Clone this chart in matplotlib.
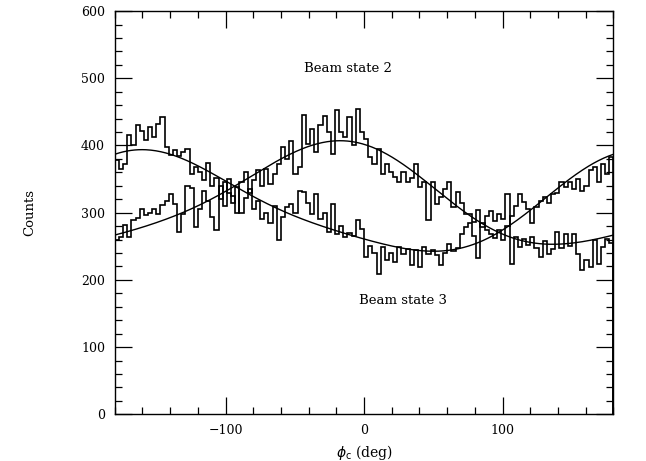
import numpy as np
import matplotlib
matplotlib.use("Agg")
import matplotlib.pyplot as plt
from matplotlib.ticker import MultipleLocator

# 3 degree bins from -180 to 180
bin_edges = np.arange(-180, 181, 3)

# Beam state 3 histogram (peaks near -160 deg)
counts_state3 = [378, 365, 372, 415, 400, 430, 422, 408, 428, 412,
                 432, 443, 398, 386, 394, 385, 390, 395, 358, 368,
                 360, 348, 374, 340, 352, 320, 345, 330, 315, 338,
                 300, 322, 335, 305, 318, 290, 300, 285, 310, 259,
                 294, 308, 313, 300, 333, 331, 315, 298, 328, 291,
                 300, 271, 313, 269, 280, 264, 270, 266, 289, 276,
                 234, 251, 240, 209, 249, 229, 240, 227, 249, 239,
                 246, 222, 244, 219, 249, 238, 245, 237, 222, 240,
                 254, 243, 247, 269, 279, 284, 265, 232, 284, 274,
                 269, 262, 274, 259, 280, 295, 310, 328, 316, 305,
                 284, 308, 318, 323, 315, 328, 330, 345, 338, 345,
                 335, 350, 333, 340, 363, 368, 345, 373, 358, 383]

# Beam state 2 histogram (peaks near -15 deg)
counts_state2 = [259, 264, 281, 264, 289, 292, 306, 296, 300, 306,
                 298, 311, 318, 328, 313, 271, 298, 340, 336, 279,
                 306, 333, 318, 294, 274, 340, 310, 350, 325, 300,
                 345, 360, 330, 348, 363, 340, 365, 343, 358, 372,
                 397, 380, 407, 358, 368, 445, 402, 425, 390, 430,
                 444, 420, 388, 453, 420, 412, 442, 400, 455, 420,
                 410, 383, 373, 395, 358, 372, 360, 353, 345, 360,
                 345, 352, 373, 338, 345, 289, 345, 313, 323, 335,
                 345, 308, 331, 315, 298, 298, 286, 304, 279, 295,
                 303, 288, 298, 290, 328, 224, 264, 249, 261, 252,
                 264, 247, 234, 258, 239, 246, 271, 248, 269, 250,
                 269, 239, 214, 230, 219, 259, 224, 249, 261, 255]


def fourier_fit(edges, counts, phi):
    # least-squares fit with first and second harmonics
    centers = np.radians(0.5 * (edges[:-1] + edges[1:]))
    def basis(t):
        return np.column_stack([np.ones_like(t), np.cos(t), np.sin(t),
                                np.cos(2 * t), np.sin(2 * t)])
    coef, *_ = np.linalg.lstsq(basis(centers), np.asarray(counts, float), rcond=None)
    return basis(np.radians(phi)) @ coef


phi = np.linspace(-180, 180, 400)
fit3 = fourier_fit(bin_edges, counts_state3, phi)
fit2 = fourier_fit(bin_edges, counts_state2, phi)

plt.rcParams['font.family'] = 'DejaVu Serif'
fig = plt.figure(figsize=(6.46, 4.61), dpi=100)
ax = fig.add_axes([0.1776, 0.1013, 0.772, 0.8747])

ax.stairs(counts_state3, bin_edges, color='black', linewidth=1.2)
ax.stairs(counts_state2, bin_edges, color='black', linewidth=1.2)
ax.plot(phi, fit3, color='black', linewidth=1.0)
ax.plot(phi, fit2, color='black', linewidth=1.0)

ax.text(-12, 514, 'Beam state 2', ha='center', va='center', fontsize=9.5)
ax.text(28, 170, 'Beam state 3', ha='center', va='center', fontsize=9.5)

ax.set_xlim(-180, 180)
ax.set_ylim(0, 600)
ax.xaxis.set_major_locator(MultipleLocator(100))
ax.xaxis.set_minor_locator(MultipleLocator(20))
ax.yaxis.set_major_locator(MultipleLocator(100))
ax.yaxis.set_minor_locator(MultipleLocator(20))
ax.tick_params(which='both', direction='in', top=True, right=True,
               labelsize=9, width=0.9)
ax.tick_params(which='major', length=12, pad=7)
ax.tick_params(which='minor', length=5)
for sp in ax.spines.values():
    sp.set_linewidth(1.0)

ax.set_xlabel(r'$\phi_{\rm c}$ (deg)', fontsize=10, labelpad=4)
ax.set_ylabel('Counts', fontsize=9.5, labelpad=32)

fig.savefig('out.png', dpi=100)
